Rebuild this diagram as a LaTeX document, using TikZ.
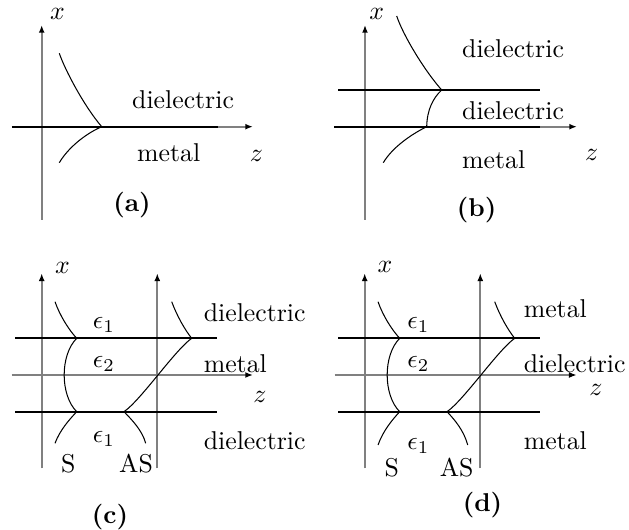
\documentclass[tikz,border=0pt]{standalone}
\usetikzlibrary{arrows.meta}
\tikzset{
  axis/.style={draw=black!50, line width=0.7pt, -{Latex[length=3pt, width=2.3pt, color=black]}},
  interface/.style={draw=black, line width=0.85pt},
  field/.style={draw=black, line width=0.4pt},
  medium/.style={anchor=west, inner sep=0pt},
  lbl/.style={inner sep=0pt},
  tag/.style={font=\bfseries, inner sep=0pt},
}

\begin{document}
\begin{tikzpicture}[x=0.388pt, y=-0.388pt]
  \useasboundingbox (0,0) rectangle (629,530);

  % (a) single interface
  \coordinate (aXb) at (41.7,220);   \coordinate (aXt) at (41.7,25);
  \coordinate (aZl) at (11.7,126.7); \coordinate (aZr) at (253,126.7);
  \coordinate (aIl) at (12,126.7);   \coordinate (aIr) at (218,126.7);
  \coordinate (aU) at (59.3,53.3);   \coordinate (aL) at (59.3,162.7);
  \coordinate (aJ) at (101.7,126.7);
  \draw[axis] (aXb) -- (aXt);
  \draw[axis] (aZl) -- (aZr);
  \draw[interface] (aIl) -- (aIr);
  \draw[field] (aU) .. controls (65,70) and (84,106) .. (aJ);
  \draw[field] (aL) .. controls (68,148) and (85,134) .. (aJ);
  \node[lbl] (ax) at (57.5,13.5) {$x$};
  \node[lbl] (az) at (256.5,156) {$z$};
  \node[medium] (adiel) at (131.7,100) {dielectric};
  \node[medium] (ametal) at (136.7,153) {metal};
  \node[tag] (atag) at (132,205.5) {(a)};

  % (b) two interfaces
  \coordinate (bXb) at (365,220);    \coordinate (bXt) at (365,25);
  \coordinate (bZl) at (334,126.7);  \coordinate (bZr) at (577,126.7);
  \coordinate (bIl) at (338,90);     \coordinate (bIr) at (540,90);
  \coordinate (bKl) at (334,126.7);  \coordinate (bKr) at (540,126.7);
  \coordinate (bU) at (396.7,16);    \coordinate (bJ) at (441.7,90);
  \coordinate (bK) at (426.7,126.7); \coordinate (bL) at (383.3,162.7);
  \draw[axis] (bXb) -- (bXt);
  \draw[axis] (bZl) -- (bZr);
  \draw[interface] (bIl) -- (bIr);
  \draw[interface] (bKl) -- (bKr);
  \draw[field] (bU) .. controls (403,35) and (424,70) .. (bJ);
  \draw[field] (bJ) .. controls (433,98) and (427,110) .. (bK);
  \draw[field] (bK) .. controls (410,135) and (392,148) .. (bL);
  \node[lbl] (bx) at (376.7,13.5) {$x$};
  \node[lbl] (bz) at (591.7,155) {$z$};
  \node[medium] (bdiel) at (461.7,49) {dielectric};
  \node[medium] (bcore) at (461.7,111) {dielectric};
  \node[medium] (bmetal) at (461.7,159.5) {metal};
  \node[tag] (btag) at (476.7,210) {(b)};

  % (c) metal slab between dielectrics
  \coordinate (cXb) at (41.7,468.3);  \coordinate (cXt) at (41.7,273.3);
  \coordinate (cYb) at (157.3,468.3); \coordinate (cYt) at (157.3,273.3);
  \coordinate (cZl) at (11.7,375);    \coordinate (cZr) at (253,375);
  \coordinate (cIl) at (15,338.3);    \coordinate (cIr) at (216.7,338.3);
  \coordinate (cKl) at (15,411.7);    \coordinate (cKr) at (216.7,411.7);
  \coordinate (cS0) at (55,301.7);    \coordinate (cS1) at (76.7,338.3);
  \coordinate (cS2) at (76.7,411.7);  \coordinate (cS3) at (55,443.3);
  \coordinate (cA0) at (171.7,301.7); \coordinate (cA1) at (191.7,338.3);
  \coordinate (cA2) at (124,411.7);   \coordinate (cA3) at (145.7,443.3);
  \draw[axis] (cXb) -- (cXt);
  \draw[axis] (cYb) -- (cYt);
  \draw[axis] (cZl) -- (cZr);
  \draw[interface] (cIl) -- (cIr);
  \draw[interface] (cKl) -- (cKr);
  \draw[field] (cS0) .. controls (60,316) and (69,330) .. (cS1)
                     .. controls (60,355) and (60,395) .. (cS2)
                     .. controls (69,420) and (60,430) .. (cS3);
  \draw[field] (cA0) .. controls (177,316) and (185,330) .. (cA1)
                     .. controls (175,350) and (141,400) .. (cA2)
                     .. controls (132,420) and (142,430) .. (cA3);
  \node[lbl] (cx) at (62.5,267.5) {$x$};
  \node[lbl] (cz) at (260,396.7) {$z$};
  \node[lbl] (ce1) at (104,325) {$\epsilon_1$};
  \node[lbl] (ce2) at (104,364) {$\epsilon_2$};
  \node[lbl] (ce3) at (104,439) {$\epsilon_1$};
  \node[lbl] (cS) at (68.3,463.3) {S};
  \node[lbl] (cAS) at (136,463.3) {AS};
  \node[medium] (cdiel) at (203.3,312.5) {dielectric};
  \node[medium] (ccore) at (203.3,364) {metal};
  \node[medium] (cdiel2) at (203.3,440.5) {dielectric};
  \node[tag] (ctag) at (110,517) {(c)};

  % (d) dielectric slab between metals
  \begin{scope}[shift={(323,0)}]
    \coordinate (dXb) at (41.7,468.3);  \coordinate (dXt) at (41.7,273.3);
    \coordinate (dYb) at (157.3,468.3); \coordinate (dYt) at (157.3,273.3);
    \coordinate (dZl) at (11.7,375);    \coordinate (dZr) at (253.7,375);
    \coordinate (dIl) at (15,338.3);    \coordinate (dIr) at (216.7,338.3);
    \coordinate (dKl) at (15,411.7);    \coordinate (dKr) at (216.7,411.7);
    \coordinate (dS0) at (55,301.7);    \coordinate (dS1) at (76.7,338.3);
    \coordinate (dS2) at (76.7,411.7);  \coordinate (dS3) at (55,445);
    \coordinate (dA0) at (171.7,301.7); \coordinate (dA1) at (191.7,338.3);
    \coordinate (dA2) at (124,411.7);   \coordinate (dA3) at (144.7,445);
    \draw[axis] (dXb) -- (dXt);
    \draw[axis] (dYb) -- (dYt);
    \draw[axis] (dZl) -- (dZr);
    \draw[interface] (dIl) -- (dIr);
    \draw[interface] (dKl) -- (dKr);
    \draw[field] (dS0) .. controls (60,316) and (69,330) .. (dS1)
                       .. controls (60,355) and (60,395) .. (dS2)
                       .. controls (69,420) and (60,431) .. (dS3);
    \draw[field] (dA0) .. controls (177,316) and (185,330) .. (dA1)
                       .. controls (175,350) and (141,400) .. (dA2)
                       .. controls (132,420) and (141,431) .. (dA3);
    \node[lbl] (dx) at (62,267) {$x$};
    \node[lbl] (dz) at (273,390) {$z$};
    \node[lbl] (de1) at (95.3,325) {$\epsilon_1$};
    \node[lbl] (de2) at (95.3,364) {$\epsilon_2$};
    \node[lbl] (de3) at (95.3,446) {$\epsilon_1$};
    \node[lbl] (dS) at (68.7,468) {S};
    \node[lbl] (dAS) at (133.7,468) {AS};
    \node[medium] (dmetal) at (200.3,309) {metal};
    \node[medium] (dcore) at (200.3,364) {dielectric};
    \node[medium] (dmetal2) at (200.3,440.5) {metal};
    \node[tag] (dtag) at (159.5,505) {(d)};
  \end{scope}
\end{tikzpicture}
\end{document}
